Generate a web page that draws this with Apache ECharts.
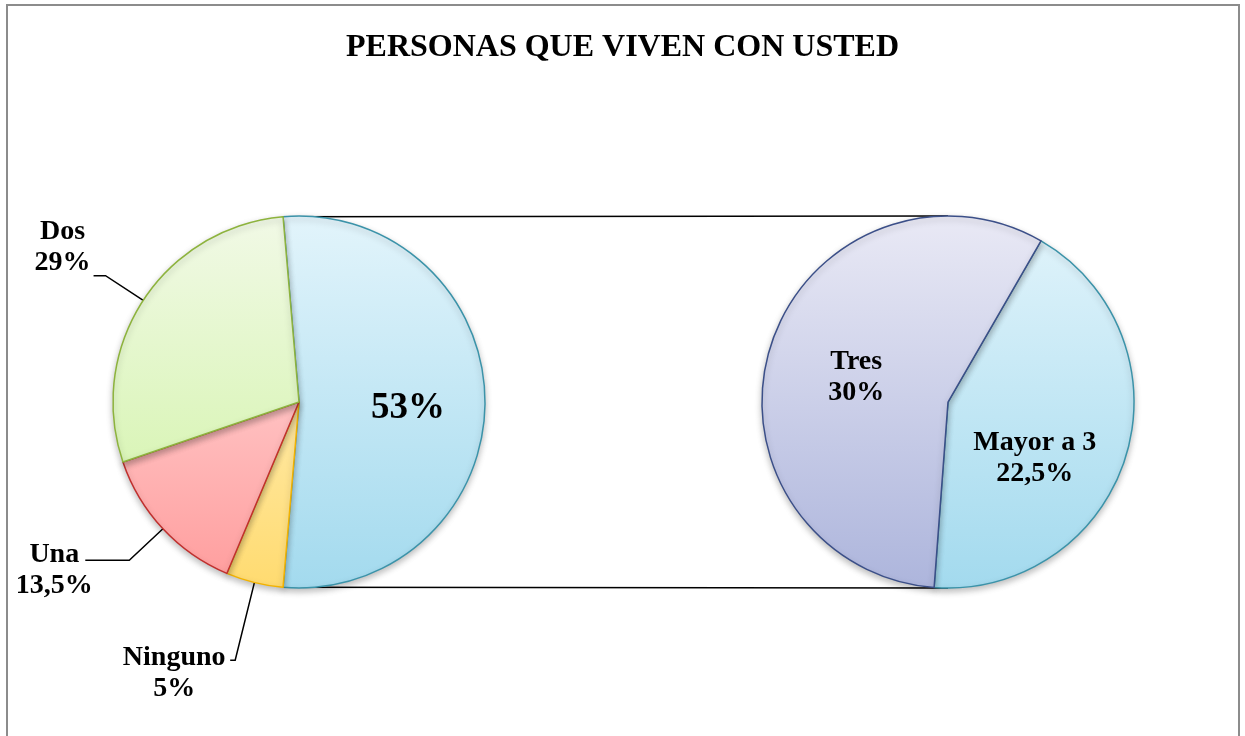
<!DOCTYPE html>
<html>
<head>
    <meta charset="utf-8">
    <script src="https://cdn.jsdelivr.net/npm/echarts@6/dist/echarts.min.js"></script>
    <style>
        html, body { margin: 0; padding: 0; background: #fff; }
    </style>
</head>
<body>
    <div id="main" style="width: 1245px;height:736px"></div>

    <script type="text/javascript">
        // datos
        var titulo = 'PERSONAS QUE VIVEN CON USTED';
        var nombresIzq = ['Otros', 'Ninguno', 'Una', 'Dos'];
        var valoresIzq = [53, 5, 13.5, 29];
        var etiquetasIzq = ['53%', '5%', '13,5%', '29%'];
        var nombresDer = ['Mayor a 3', 'Tres'];
        var valoresDer = [22.5, 30];
        var etiquetasDer = ['22,5%', '30%'];

        var fuente = '"Liberation Serif", "Times New Roman", serif';
        var cx1 = 299, cx2 = 948, cy = 402, R = 186;

        var total = 0;
        for (var i in valoresIzq) total += valoresIzq[i];
        var inicioIzq = valoresIzq[0] / total * 180;

        function grad(c1, c2) {
            return new echarts.graphic.LinearGradient(0, cy - R, 0, cy + R,
                [{offset: 0, color: c1}, {offset: 1, color: c2}], true);
        }

        var estilos = {
            'Otros':     {color: grad('#e2f4fb', '#a3daee'), borderColor: '#3b93a9'},
            'Ninguno':   {color: grad('#fff6da', '#ffdb70'), borderColor: '#f2b200'},
            'Una':       {color: grad('#ffe6e7', '#ff9c9c'), borderColor: '#c0302e'},
            'Dos':       {color: grad('#f1f9e6', '#cef3a0'), borderColor: '#8db33d'},
            'Mayor a 3': {color: grad('#e2f4fb', '#a3daee'), borderColor: '#3b93a9'},
            'Tres':      {color: grad('#e9e9f5', '#adb5dc'), borderColor: '#3b4f88'}
        };

        var txt = {fontWeight: 'bold', fontFamily: fuente, color: '#000'};

        // ajustes de etiqueta (ancho de bloque, relleno, lineas guia)
        var ajustes = {
            'Ninguno': {w: 102, pad: [26, 0, 0, 0], len: 80, len2: 5},
            'Una':     {w: 52,  pad: [20, 0, 0, 0], len: 46, len2: 44},
            'Dos':     {w: 52,  pad: [0, 0, 56, 0], len: 45, len2: 12}
        };

        var datosIzq = [];
        for (var i in nombresIzq) {
            var n = nombresIzq[i];
            var item = {
                name: n,
                value: valoresIzq[i],
                itemStyle: {
                    color: estilos[n].color,
                    borderColor: estilos[n].borderColor,
                    borderWidth: 1.5,
                    shadowBlur: 6,
                    shadowOffsetY: 3,
                    shadowColor: 'rgba(0,0,0,0.25)'
                }
            };
            if (n === 'Otros') {
                item.label = {
                    position: 'inside',
                    formatter: '{s| }\n{b|' + etiquetasIzq[i] + '}',
                    padding: [0, 0, 0, 26],
                    rich: {
                        s: {lineHeight: 12, fontSize: 10},
                        b: Object.assign({fontSize: 37, lineHeight: 40}, txt)
                    }
                };
                item.labelLine = {show: false};
            } else {
                var a = ajustes[n];
                item.label = {
                    position: 'outside',
                    formatter: '{c|' + n + '}\n{c|' + etiquetasIzq[i] + '}',
                    padding: a.pad,
                    rich: {
                        c: Object.assign({width: a.w, align: 'center', fontSize: 28, lineHeight: 31}, txt)
                    }
                };
                item.labelLine = {
                    show: true, length: a.len, length2: a.len2,
                    lineStyle: {color: '#000', width: 1.5}
                };
            }
            datosIzq.push(item);
        }

        // separacion vertical de las etiquetas internas de la derecha
        var espacioDer = {'Mayor a 3': 56, 'Tres': 8};
        var datosDer = [];
        for (var i in nombresDer) {
            var n = nombresDer[i];
            datosDer.push({
                name: n,
                value: valoresDer[i],
                itemStyle: {
                    color: estilos[n].color,
                    borderColor: estilos[n].borderColor,
                    borderWidth: 1.5,
                    shadowBlur: 6,
                    shadowOffsetY: 3,
                    shadowColor: 'rgba(0,0,0,0.25)'
                },
                label: {
                    position: 'inside',
                    formatter: '{s| }\n{t|' + n + '}\n{t|' + etiquetasDer[i] + '}',
                    padding: n === 'Mayor a 3' ? [0, 10, 0, 0] : 0,
                    rich: {
                        s: {lineHeight: espacioDer[n], fontSize: 10},
                        t: Object.assign({fontSize: 28, lineHeight: 31}, txt)
                    }
                }
            });
        }

        // lineas de union entre las dos tortas
        var ang = inicioIzq * Math.PI / 180;
        var xa = cx1 + R * Math.cos(ang), ya = R * Math.sin(ang);

        var myChart = echarts.init(document.getElementById('main'));
        var option = {
            animation: false,
            backgroundColor: '#fff',
            title: {
                text: titulo,
                left: 'center',
                top: 27,
                textStyle: {fontFamily: fuente, fontSize: 32, fontWeight: 'bold', color: '#000'}
            },
            graphic: [
                {type: 'rect', z: 0, shape: {x: 7, y: 5, width: 1232, height: 780},
                 style: {fill: 'none', stroke: '#8c8c8c', lineWidth: 2}},
                {type: 'line', z: 0, shape: {x1: xa, y1: cy - ya, x2: cx2, y2: cy - R},
                 style: {stroke: '#000', lineWidth: 1.5}},
                {type: 'line', z: 0, shape: {x1: xa, y1: cy + ya, x2: cx2, y2: cy + R},
                 style: {stroke: '#000', lineWidth: 1.5}}
            ],
            series: [{
                name: 'izq',
                type: 'pie',
                center: [cx1, cy],
                radius: R,
                startAngle: inicioIzq,
                clockwise: true,
                avoidLabelOverlap: false,
                data: datosIzq
            }, {
                name: 'der',
                type: 'pie',
                center: [cx2, cy],
                radius: R,
                startAngle: 60,
                clockwise: true,
                avoidLabelOverlap: false,
                data: datosDer
            }]
        };
        myChart.setOption(option);
    </script>
</body>
</html>
